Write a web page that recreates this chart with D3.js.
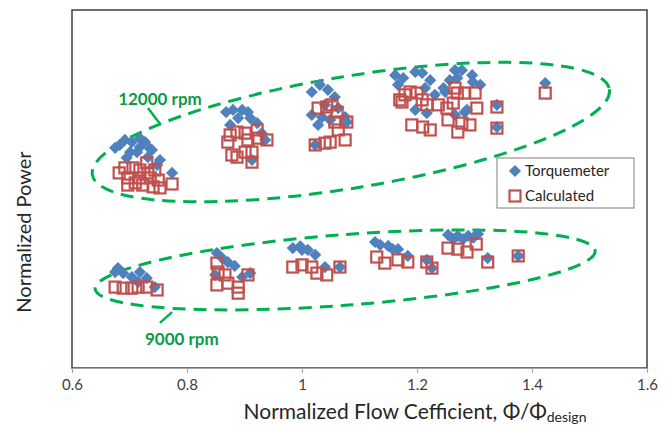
<!DOCTYPE html>
<html><head><meta charset="utf-8">
<script src="https://cdn.jsdelivr.net/npm/d3@7/dist/d3.min.js"></script>
<style>body{margin:0;background:#fff;}svg{display:block;font-family:Lato,"Noto Sans",sans-serif;}</style>
</head><body>
<script>
// ---- data ----
const xTicks = [0.6, 0.8, 1.0, 1.2, 1.4, 1.6];
const xTickLabels = ["0.6", "0.8", "1", "1.2", "1.4", "1.6"];
const seriesNames = ["Torquemeter", "Calculated"];

const torq12000X = [0.683,0.701,0.704,0.713,0.727,0.732,0.748,0.774,0.718,0.736,0.675,0.692,0.718,0.739,0.753,0.695,
  0.880,0.896,0.906,0.922,0.875,0.936,0.913,0.889,0.868,0.910,0.930,
  1.031,1.045,1.057,1.035,1.075,1.078,1.023,1.040,1.028,1.017,1.063,1.049,1.017,
  1.176,1.197,1.209,1.266,1.270,1.296,1.297,1.249,1.217,1.287,1.339,1.339,1.423,1.167,1.214,1.246,1.283,
  1.162,1.223,1.257,1.278,1.310,1.231,1.197,1.266];
const torq12000Y = [0.623,0.603,0.631,0.603,0.631,0.589,0.567,0.545,0.617,0.612,0.615,0.637,0.642,0.609,0.581,0.587,
  0.721,0.721,0.715,0.684,0.679,0.637,0.581,0.698,0.715,0.698,0.656,
  0.791,0.777,0.757,0.701,0.701,0.687,0.623,0.735,0.679,0.771,0.726,0.693,0.707,
  0.810,0.827,0.824,0.832,0.810,0.818,0.799,0.771,0.712,0.721,0.735,0.673,0.796,0.791,0.782,0.782,0.715,
  0.818,0.804,0.804,0.832,0.791,0.763,0.721,0.707];

const calc12000X = [0.682,0.697,0.706,0.718,0.730,0.732,0.710,0.723,0.741,0.750,0.753,0.774,0.692,0.718,0.736,0.697,0.744,
  0.875,0.887,0.901,0.922,0.923,0.871,0.906,0.939,0.878,0.887,0.901,0.913,0.913,
  1.028,1.043,1.052,1.061,1.057,1.078,1.063,1.075,1.023,1.040,1.049,
  1.174,1.188,1.200,1.209,1.217,1.237,1.266,1.270,1.283,1.301,1.263,1.304,1.339,1.191,1.210,1.223,1.254,1.278,1.292,1.271,1.339,1.423,
  1.179,1.170,1.252];
const calc12000Y = [0.545,0.531,0.559,0.553,0.573,0.545,0.517,0.511,0.506,0.525,0.503,0.514,0.559,0.531,0.531,0.511,0.553,
  0.651,0.659,0.656,0.665,0.642,0.631,0.637,0.637,0.595,0.589,0.603,0.603,0.575,
  0.726,0.729,0.735,0.715,0.687,0.687,0.665,0.637,0.623,0.628,0.631,
  0.743,0.771,0.768,0.749,0.735,0.735,0.782,0.768,0.768,0.768,0.740,0.726,0.729,0.679,0.673,0.665,0.693,0.684,0.679,0.659,0.670,0.768,
  0.763,0.749,0.726];

const torq9000X = [0.675,0.689,0.704,0.730,0.744,0.715,0.680,0.718,
  0.852,0.871,0.849,0.896,0.910,0.861,0.883,
  0.984,1.000,1.023,1.040,1.066,0.997,1.010,
  1.127,1.150,1.167,1.184,1.217,1.226,1.254,1.271,1.289,1.306,1.323,1.376,1.136,1.158,1.263,1.280,1.298];
const torq9000Y = [0.268,0.265,0.254,0.251,0.226,0.240,0.279,0.268,
  0.321,0.296,0.260,0.254,0.265,0.307,0.285,
  0.335,0.330,0.316,0.282,0.282,0.340,0.330,
  0.352,0.341,0.332,0.313,0.302,0.279,0.372,0.369,0.369,0.374,0.307,0.313,0.344,0.332,0.360,0.360,0.364];

const calc9000X = [0.675,0.689,0.704,0.715,0.730,0.748,
  0.852,0.854,0.852,0.866,0.871,0.889,0.889,0.906,
  0.984,1.000,1.017,1.026,1.043,1.066,
  1.130,1.144,1.167,1.184,1.217,1.226,1.254,1.271,1.287,1.303,1.323,1.376];
const calc9000Y = [0.226,0.223,0.223,0.226,0.226,0.218,
  0.293,0.268,0.232,0.260,0.237,0.226,0.209,0.260,
  0.282,0.288,0.282,0.265,0.260,0.282,
  0.310,0.293,0.302,0.296,0.296,0.279,0.335,0.332,0.324,0.346,0.296,0.313];

// annotation ellipses (data units): center x, center y, semi-axis x-units, semi-axis y-units, tilt
const ellipseCX = [1.085, 1.075];
const ellipseCY = [0.659, 0.274];
const ellipseA = [0.4557, 0.436];
const ellipseB = [0.156, 0.0986];
const ellipseTilt = [-9.4, -4.35];
const rpmLabels = ["12000 rpm", "9000 rpm"];
const rpmLabelX = [0.753, 0.791];
const rpmLabelY = [0.735, 0.064];
const leaderX1 = [0.732, 0.753], leaderY1 = [0.726, 0.126];
const leaderX2 = [0.753, 0.774], leaderY2 = [0.682, 0.156];

// ---- chart ----
const W = 670, H = 425;
const m = {left: 72, right: 23, top: 10, bottom: 57};
const svg = d3.select("body").append("svg").attr("width", W).attr("height", H);
const x = d3.scaleLinear().domain([0.6, 1.6]).range([m.left, W - m.right]);
const y = d3.scaleLinear().domain([0, 1]).range([H - m.bottom, m.top]);

// plot border
svg.append("rect").attr("x", x(0.6)).attr("y", y(1)).attr("width", x(1.6) - x(0.6)).attr("height", y(0) - y(1))
  .attr("fill", "none").attr("stroke", "#404040").attr("stroke-width", 1.5);

// x axis
const xAxis = d3.axisBottom(x).tickValues(xTicks).tickFormat((d, i) => xTickLabels[i]).tickSize(5).tickPadding(6);
const gx = svg.append("g").attr("transform", `translate(0,${y(0)})`).call(xAxis);
gx.select(".domain").attr("stroke", "#a6a6a6").attr("stroke-width", 1.2);
gx.selectAll(".tick line").attr("stroke", "#a6a6a6");
gx.selectAll(".tick text").attr("fill", "#404040").style("font-size", "15px").style("font-family", "Lato,'Noto Sans',sans-serif");

// axis titles
const xt = svg.append("text").attr("x", 415).attr("y", 419).attr("text-anchor", "middle")
  .attr("fill", "#262626").style("font-size", "21px");
xt.append("tspan").text("Normalized Flow Cefficient, Φ/Φ");
xt.append("tspan").attr("font-size", "14px").attr("dy", 3).text("design");
svg.append("text").attr("transform", `translate(31,${232}) rotate(-90)`).attr("text-anchor", "middle")
  .attr("fill", "#262626").style("font-size", "20px").text("Normalized Power");

// ellipses
const green = "#00B050";
ellipseCX.forEach((cx, i) => {
  const px = x(cx), py = y(ellipseCY[i]);
  const rx = x(0.6 + ellipseA[i]) - x(0.6);
  const ry = y(0) - y(ellipseB[i]);
  svg.append("ellipse").attr("cx", 0).attr("cy", 0).attr("rx", rx).attr("ry", ry)
    .attr("transform", `translate(${px},${py}) rotate(${ellipseTilt[i]})`)
    .attr("fill", "none").attr("stroke", green).attr("stroke-width", 3).attr("stroke-dasharray", "13,8");
  svg.append("line").attr("x1", x(leaderX1[i])).attr("y1", y(leaderY1[i])).attr("x2", x(leaderX2[i])).attr("y2", y(leaderY2[i]))
    .attr("stroke", green).attr("stroke-width", 2.5);
  svg.append("text").attr("x", x(rpmLabelX[i])).attr("y", y(rpmLabelY[i])).attr("text-anchor", "middle")
    .attr("fill", "#0a9b48").style("font-size", "17px").style("font-weight", "bold").text(rpmLabels[i]);
});

// markers
const blue = "#4F81BD", red = "#C0504D";
const diamond = d3.symbol().type(d3.symbolDiamond2).size(95);
const sq = 11, sw = 2.2;
const torqAll = torq12000X.map((v, i) => [v, torq12000Y[i]]).concat(torq9000X.map((v, i) => [v, torq9000Y[i]]));
const calcAll = calc12000X.map((v, i) => [v, calc12000Y[i]]).concat(calc9000X.map((v, i) => [v, calc9000Y[i]]));
svg.append("g").selectAll("path").data(torqAll).join("path")
  .attr("d", diamond).attr("transform", d => `translate(${x(d[0])},${y(d[1])})`).attr("fill", blue);
svg.append("g").selectAll("rect").data(calcAll).join("rect")
  .attr("x", d => x(d[0]) - sq / 2).attr("y", d => y(d[1]) - sq / 2).attr("width", sq).attr("height", sq)
  .attr("fill", "none").attr("stroke", red).attr("stroke-width", sw);

// legend
const lg = svg.append("g").attr("transform", "translate(497,158)");
lg.append("rect").attr("width", 137).attr("height", 50).attr("fill", "#fff").attr("stroke", "#7f7f7f").attr("stroke-width", 1);
lg.append("path").attr("d", diamond).attr("transform", "translate(18,13)").attr("fill", blue);
lg.append("rect").attr("x", 18 - sq / 2).attr("y", 38 - sq / 2).attr("width", sq).attr("height", sq).attr("fill", "none").attr("stroke", red).attr("stroke-width", sw);
lg.append("text").attr("x", 28).attr("y", 18).attr("fill", "#262626").style("font-size", "15px").text(seriesNames[0]);
lg.append("text").attr("x", 28).attr("y", 43).attr("fill", "#262626").style("font-size", "15px").text(seriesNames[1]);
</script>
</body></html>
